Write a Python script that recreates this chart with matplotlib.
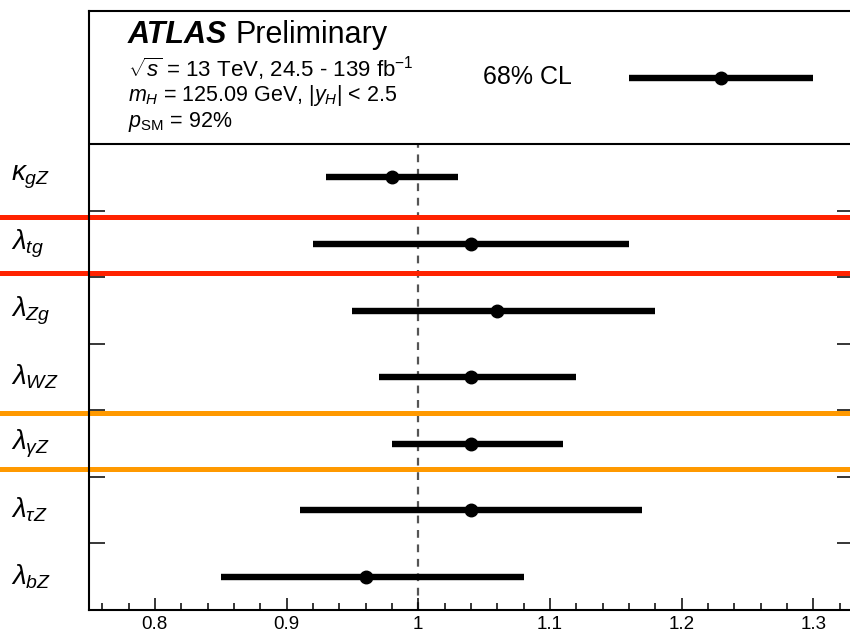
import matplotlib
matplotlib.use('Agg')
import matplotlib.pyplot as plt
from matplotlib.ticker import MultipleLocator, FuncFormatter
from matplotlib.transforms import blended_transform_factory

plt.rcParams['font.family'] = 'Liberation Sans'
plt.rcParams['mathtext.fontset'] = 'custom'
plt.rcParams['mathtext.rm'] = 'Liberation Sans'
plt.rcParams['mathtext.it'] = 'Liberation Sans:italic'
plt.rcParams['mathtext.bf'] = 'Liberation Sans:bold'

# coupling ratios, top to bottom, with 68% CL intervals
params = [r'$\kappa_{gZ}$', r'$\lambda_{tg}$', r'$\lambda_{Zg}$', r'$\lambda_{WZ}$',
          r'$\lambda_{\gamma Z}$', r'$\lambda_{\tau Z}$', r'$\lambda_{bZ}$']
best = [0.98, 1.04, 1.06, 1.04, 1.04, 1.04, 0.96]
low = [0.93, 0.92, 0.95, 0.97, 0.98, 0.91, 0.85]
high = [1.03, 1.16, 1.18, 1.12, 1.11, 1.17, 1.08]

# legend sample interval
cl_best, cl_low, cl_high = 1.23, 1.16, 1.30

fig = plt.figure(figsize=(8.5, 6.36), dpi=100)
ax = fig.add_axes([89 / 850, 26 / 636, 764 / 850, 599 / 636])
ax.set_xlim(0.75, 1.33)
ax.set_ylim(0, 9)

n = len(params)
ys = [n - 0.5 - i for i in range(n)]

# SM expectation
ax.plot([1, 1], [0, n], ls=(0, (3.5, 3)), color='#555555', lw=1.6, zorder=1)

ax.hlines(ys, low, high, color='black', lw=4.6, zorder=3)
ax.plot(best, ys, 'o', color='black', ms=9, zorder=4)

# header box separator
ax.axhline(n, color='black', lw=1.5)

# highlighted rows, drawn across the full figure width
trans = blended_transform_factory(fig.transFigure, ax.transData)
for y, c in [(5.91, '#ff2200'), (5.07, '#ff2200'), (2.96, '#ff9900'), (2.12, '#ff9900')]:
    ax.plot([0, 1], [y, y], transform=trans, color=c, lw=3.6, clip_on=False, zorder=2)

# row labels
for y, lab in zip(ys, params):
    ax.text(11 / 850, y, lab, transform=trans, fontsize=20, va='center', ha='left')

# legend entry
ax.hlines([8], [cl_low], [cl_high], color='black', lw=4.6)
ax.plot([cl_best], [8], 'o', color='black', ms=9)
ax.text(0.516, 0.878, '68% CL', transform=ax.transAxes, fontsize=18, va='baseline')

# experiment label
t = ax.text(0.051, 0.947, 'ATLAS', transform=ax.transAxes, fontsize=22,
            fontweight='bold', fontstyle='italic', va='baseline')
fig.canvas.draw()
bb = t.get_window_extent(fig.canvas.get_renderer())
xp = ax.transAxes.inverted().transform((bb.x1 + 8, 0))[0]
ax.text(xp, 0.947, 'Preliminary', transform=ax.transAxes, fontsize=22, va='baseline')

ax.text(0.051, 0.890, r'$\sqrt{s}$ = 13 TeV, 24.5 - 139 fb$^{-1}$', transform=ax.transAxes,
        fontsize=16, va='baseline')
ax.text(0.051, 0.850, r'$m_{H}$ = 125.09 GeV, |$y_{H}$| < 2.5', transform=ax.transAxes,
        fontsize=15.5, va='baseline')
ax.text(0.051, 0.806, r'$p_{\mathrm{SM}}$ = 92%', transform=ax.transAxes,
        fontsize=15.5, va='baseline')

# axes styling
ax.xaxis.set_major_locator(MultipleLocator(0.1))
ax.xaxis.set_minor_locator(MultipleLocator(0.02))
ax.xaxis.set_major_formatter(FuncFormatter(lambda v, p: f'{v:g}'))
ax.tick_params(axis='x', which='major', direction='in', length=9, width=1.1,
               labelsize=13.5, pad=4, top=False)
ax.tick_params(axis='x', which='minor', direction='in', length=5, width=1.1, top=False)
ax.set_yticks(range(1, n + 1))
ax.tick_params(axis='y', direction='in', length=11.5, width=1.1, left=True, right=True,
               labelleft=False)
for s in ax.spines.values():
    s.set_linewidth(1.5)

fig.savefig('out.png', dpi=100)
